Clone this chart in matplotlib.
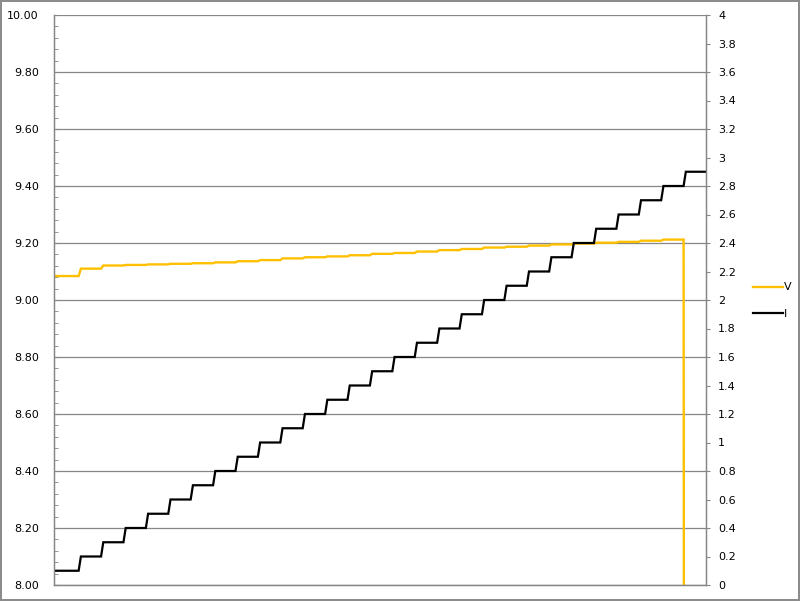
import numpy as np
import matplotlib
matplotlib.use('Agg')
import matplotlib.pyplot as plt
from matplotlib.ticker import MultipleLocator, FormatStrFormatter

# current steps (A) and how many samples each step lasted
i_levels = [0.1, 0.2, 0.3, 0.4, 0.5, 0.6, 0.7, 0.8, 0.9, 1.0,
            1.1, 1.2, 1.3, 1.4, 1.5, 1.6, 1.7, 1.8, 1.9, 2.0,
            2.1, 2.2, 2.3, 2.4, 2.5, 2.6, 2.7, 2.8, 2.9]
step_samples = [12, 10, 10, 10, 10, 10, 10, 10, 10, 10,
                10, 10, 10, 10, 10, 10, 10, 10, 10, 10,
                10, 10, 10, 10, 10, 10, 10, 10, 10]
# voltage measured on each step (V), supply cuts out on the last one
v_levels = [9.084, 9.110, 9.121, 9.123, 9.125, 9.127, 9.129, 9.132, 9.136, 9.140,
            9.146, 9.150, 9.153, 9.157, 9.162, 9.165, 9.170, 9.175, 9.179, 9.184,
            9.187, 9.191, 9.195, 9.198, 9.201, 9.204, 9.208, 9.212, 0.0]

GRID = '#868686'
YELLOW = '#FFC000'

cur = np.repeat(i_levels, step_samples)
volt = np.repeat(v_levels, step_samples)
x = np.arange(len(cur))

fig = plt.figure(figsize=(8, 6.01), dpi=100, edgecolor='#8c8c8c', linewidth=1.5)
ax = fig.add_axes([54 / 800, 16 / 601, 652 / 800, 570 / 601])
ax2 = ax.twinx()

ax.plot(x, volt, color=YELLOW, lw=1.7, label='V', solid_joinstyle='miter')
ax2.plot(x, cur, color='black', lw=1.6, label='I', solid_joinstyle='miter')

ax.set_xlim(0, len(x) - 1)
ax.set_ylim(8.0, 10.0)
ax2.set_ylim(0, 4)

ax.yaxis.set_major_locator(MultipleLocator(0.2))
ax.yaxis.set_minor_locator(MultipleLocator(0.04))
ax.yaxis.set_major_formatter(FormatStrFormatter('%.2f'))
ax2.yaxis.set_major_locator(MultipleLocator(0.2))
ax2.yaxis.set_major_formatter(FormatStrFormatter('%g'))

ax.set_xticks([])
ax.grid(axis='y', color=GRID, lw=0.9)
ax.set_axisbelow(True)

ax.tick_params(axis='y', which='major', direction='in', length=3, color=GRID,
               pad=11, labelsize=8)
ax.tick_params(axis='y', which='minor', direction='in', length=3, color=GRID)
ax2.tick_params(axis='y', direction='out', length=3, color=GRID, pad=5.8, labelsize=8)

for a in (ax, ax2):
    for s in a.spines.values():
        s.set_color(GRID)
        s.set_linewidth(0.9)
    a.spines['top'].set_visible(False)

h1, l1 = ax.get_legend_handles_labels()
h2, l2 = ax2.get_legend_handles_labels()
fig.legend(h1 + h2, l1 + l2, loc='center left', bbox_to_anchor=(747 / 800, 0.5),
           frameon=False, fontsize=8, handlelength=2.7, handletextpad=0.15,
           labelspacing=1.45, borderpad=0)

fig.savefig('out.png', dpi=100)
